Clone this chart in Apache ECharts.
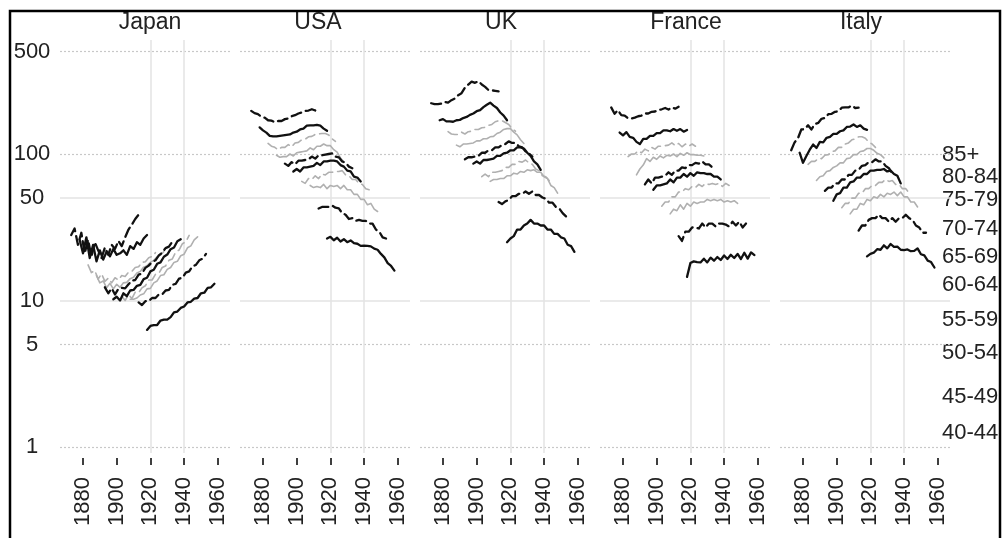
<!DOCTYPE html>
<html>
<head>
<meta charset="utf-8">
<script src="https://cdn.jsdelivr.net/npm/echarts@6/dist/echarts.min.js"></script>
<style>
  html, body { margin: 0; padding: 0; background: #fff; }
  #chart { width: 1008px; height: 538px; }
</style>
</head>
<body>
<div id="chart"></div>
<script>
// Panels, age groups and axis ticks
const countries = ['Japan', 'USA', 'UK', 'France', 'Italy'];
const ageGroups = ['85+', '80-84', '75-79', '70-74', '65-69', '60-64', '55-59', '50-54', '45-49', '40-44'];
const tickYears = [1880, 1900, 1920, 1940, 1960];
const yTickValues = [1, 5, 10, 50, 100, 500];

// Each age group's series starts 5 cohort years after the previous one; values every 2 years
const firstCohort = 1873;
const cohortShift = 5;
const yearStep = 2;

// Rates by birth cohort, one row per age group (85+ first, 40-44 last)
const japanRates = [
  [28, 31, 24, 29, 21, 26, 20, 25, 22, 19.5, 23, 20.5, 24, 22.5, 25.5, 23.5, 27, 30.5, 33, 36, 38.5],
  [26, 21, 27, 19.5, 24, 18.5, 22, 19, 21.5, 20, 22.5, 20.5, 21, 22, 20.5, 23.5, 22.5, 25, 24, 26.5, 28],
  [17.5, 15.5, 16, 14, 15.2, 13.5, 14.2, 13.2, 14.3, 13.8, 14.8, 14.6, 15.6, 15.8, 16.8, 17, 18.2, 18.4, 19.6, 20, 21.2],
  [14.8, 13.2, 13.6, 12.2, 13.1, 12, 12.9, 12.3, 13.2, 13.3, 14.1, 14.4, 15.4, 15.8, 16.9, 17.3, 18.2, 18.8, 19.9, 20.4, 21.6],
  [12.3, 11.2, 12.1, 11, 12, 12.2, 12.1, 12.9, 13.7, 13.8, 15, 15.3, 16.7, 17.3, 18.3, 18.8, 20.3, 21.2, 22.8, 23.3, 25.2],
  [10.2, 10.6, 10, 11.2, 10.7, 11.7, 11.8, 12.6, 12.8, 14, 14.3, 15.8, 16.2, 17.8, 18.2, 19.9, 20.6, 22.4, 23, 25.4, 26.2],
  [10.7, 10, 11, 10.3, 11.4, 11.3, 12.2, 12.6, 13.8, 13.8, 15.1, 15.3, 16.8, 17.2, 18.8, 19.2, 21.4, 22.1, 24.4, 25.1, 27.8],
  [10.2, 10.2, 10.4, 10.9, 11.1, 12, 12.1, 13.2, 13.6, 14.8, 15, 16.3, 16.8, 18.2, 18.5, 20.2, 20.7, 22.9, 23.6, 25.9, 27.2],
  [9.7, 9.3, 9.9, 9.9, 10.4, 10.4, 11, 11, 11.7, 11.8, 12.8, 13, 14.1, 14.3, 15.5, 15.8, 17.1, 17.5, 18.8, 19.3, 20.8],
  [6.3, 6.7, 6.8, 6.8, 7.3, 7.4, 7.4, 7.7, 8.3, 8.4, 8.9, 9.1, 9.7, 9.8, 10.3, 10.4, 11.2, 11.3, 12.2, 12.3, 13]
];
const usaRates = [
  [197, 190, 187, 180, 177, 170, 169, 165, 168, 168, 173, 175, 181, 184, 189, 192, 197, 198, 202, 198, 206],
  [152, 145, 140, 133, 132, 132, 133, 134, 135, 136, 140, 142, 147, 149, 156, 157, 157, 158, 156, 149, 144],
  [118, 113, 111, 107, 111, 111, 116, 112, 119, 120, 125, 126, 131, 132, 136, 137, 138, 138, 135, 127, 122],
  [98, 95, 96, 96, 100, 97, 102, 103, 104, 105, 110, 107, 113, 113, 117, 114, 114, 107, 103, 94, 88],
  [86, 83, 88, 85, 90, 90, 91, 92, 96, 93, 98, 98, 99, 100, 101, 96, 95, 89, 87, 82, 80],
  [76, 79, 76, 81, 81, 82, 83, 87, 84, 89, 89, 90, 90, 89, 84, 82, 77, 76, 70, 69, 65],
  [65, 63, 68, 67, 71, 68, 73, 72, 75, 75, 76, 76, 77, 72, 71, 67, 67, 63, 62, 58, 57],
  [61, 59, 60, 59, 62, 58, 61, 60, 61, 58, 61, 57, 57, 53, 53, 49, 49, 45, 46, 42, 40.5],
  [42.5, 43.5, 43.5, 43.5, 44.5, 43, 42.5, 39.5, 38.5, 36, 36.5, 35, 35.5, 35, 35, 33.5, 33.5, 30.5, 29.5, 27, 26.5],
  [26.5, 27.2, 25.8, 26.8, 25.3, 26.2, 25, 25.7, 24.6, 24.4, 23.6, 23.7, 23.6, 23.4, 22.6, 22.2, 20.8, 19.7, 18, 17.2, 16]
];
const ukRates = [
  [222, 219, 219, 221, 227, 224, 233, 239, 252, 260, 283, 298, 312, 306, 314, 298, 287, 273, 272, 270, 268],
  [170, 173, 167, 167, 166, 170, 171, 176, 179, 185, 189, 196, 199, 209, 217, 224, 214, 206, 192, 183, 170],
  [142, 137, 136, 136, 141, 137, 142, 143, 147, 147, 151, 152, 157, 159, 166, 169, 169, 164, 159, 149, 143],
  [115, 112, 117, 117, 118, 119, 123, 123, 127, 127, 131, 132, 138, 141, 147, 149, 149, 141, 135, 125, 118],
  [92, 95, 95, 96, 97, 102, 102, 106, 106, 111, 111, 115, 117, 122, 119, 119, 113, 111, 104, 101, 96],
  [86, 89, 86, 91, 91, 92, 93, 97, 97, 101, 102, 106, 106, 111, 111, 109, 102, 97, 89, 85, 78],
  [70, 73, 70, 75, 75, 76, 77, 81, 81, 85, 85, 89, 88, 91, 87, 85, 79, 77, 71, 70, 66],
  [65, 67, 67, 68, 68, 71, 71, 74, 73, 76, 75, 78, 77, 78, 75, 75, 70, 68, 61, 59, 54],
  [47, 45.5, 47.5, 48.5, 51.5, 51.5, 53.5, 53.5, 55.5, 53.5, 55.5, 52.5, 52.5, 50.5, 49.5, 46.5, 46.5, 43.5, 42.5, 39.5, 37.5],
  [25, 26.5, 27.5, 30.5, 30.5, 32.5, 33.5, 35.5, 33.5, 33.5, 32.5, 32.5, 30.5, 30.5, 28.5, 28.5, 27, 26.5, 24, 23.5, 21.5]
];
const franceRates = [
  [208, 188, 199, 184, 183, 175, 175, 177, 181, 183, 189, 189, 194, 195, 200, 202, 206, 201, 208, 204, 210],
  [140, 134, 141, 131, 129, 121, 117, 127, 127, 133, 133, 139, 139, 145, 145, 143, 148, 144, 148, 142, 146],
  [96, 100, 100, 105, 102, 108, 105, 111, 108, 113, 113, 114, 115, 119, 114, 118, 112, 117, 113, 117, 113],
  [72, 79, 84, 93, 89, 95, 92, 97, 94, 98, 97, 100, 96, 101, 98, 102, 99, 99, 98, 98, 97],
  [62, 67, 63, 69, 69, 70, 71, 75, 72, 77, 77, 81, 80, 84, 84, 87, 86, 89, 85, 85, 81],
  [57, 61, 61, 62, 63, 67, 64, 69, 69, 73, 70, 74, 71, 75, 74, 74, 73, 73, 70, 70, 67],
  [44, 47, 47, 51, 51, 55, 55, 58, 57, 60, 59, 62, 60, 63, 62, 63, 62, 63, 60, 63, 61],
  [39, 42, 41, 45, 42, 46, 44, 47, 46, 47, 47, 49, 48, 49, 48, 49, 47, 48, 47, 48, 46],
  [27.5, 25.5, 29.5, 29.5, 31.5, 31.5, 31, 33.5, 31.5, 33.5, 33.5, 32, 33.5, 33.5, 33, 32, 34.5, 32.5, 34.5, 31.5, 33.5],
  [14.5, 18, 18.5, 18.3, 18.2, 19.3, 18.2, 19.6, 18.7, 19.8, 18.9, 20.3, 19.2, 20.5, 19.5, 20.8, 19.2, 21.2, 19.3, 21.3, 20.4]
];
const italyRates = [
  [106, 120, 128, 147, 148, 157, 147, 160, 163, 174, 176, 187, 188, 194, 196, 207, 208, 208, 214, 206, 207],
  [102, 87, 97, 107, 116, 110, 121, 120, 129, 131, 137, 137, 143, 145, 153, 154, 159, 153, 157, 149, 146],
  [85, 89, 89, 93, 93, 98, 99, 104, 105, 111, 111, 117, 119, 125, 127, 131, 131, 128, 121, 117, 111],
  [66, 70, 71, 76, 77, 81, 83, 87, 87, 93, 94, 99, 99, 104, 105, 109, 109, 106, 101, 99, 94],
  [56, 59, 59, 63, 63, 67, 67, 72, 72, 77, 78, 83, 84, 88, 88, 92, 89, 89, 83, 80, 73],
  [48, 53, 54, 59, 59, 64, 65, 69, 69, 73, 73, 77, 77, 78, 78, 79, 76, 77, 73, 71, 63],
  [43, 46, 46, 50, 50, 54, 54, 58, 58, 61, 61, 64, 64, 67, 65, 66, 62, 62, 58, 58, 54],
  [39, 42, 42, 46, 45, 49, 48, 51, 50, 53, 51, 54, 53, 55, 52, 55, 51, 51, 47, 47, 43.5],
  [30, 32.5, 32.5, 35.5, 36.5, 36.5, 38.5, 36.5, 36.5, 34.5, 36.5, 34.5, 36.5, 36.5, 38.5, 36.5, 35.5, 32.5, 31.5, 29, 29],
  [20, 20.8, 21.2, 22.4, 22.2, 23.8, 22.7, 24.3, 23.2, 23.3, 22.2, 22.1, 22.3, 21.7, 21.8, 22.7, 20.7, 20.3, 18.7, 18.3, 16.8]
];
const countryRates = [japanRates, usaRates, ukRates, franceRates, italyRates];

// ---- layout & styling ----
const FONT = '"Liberation Sans", Arial, Helvetica, sans-serif';
const TEXT = '#222';
const panelLeft = 60, panelWidth = 170, panelGap = 10, panelTop = 40, panelHeight = 413;
const xRange = [1866.35, 1967.24];
const yRange = [0.91, 600];
const BLACK = '#111', GREY = '#b0b0b0';
const DASH = [10, 5];
const titleCenters = [150, 318, 501, 686, 861];
const ageLabelX = 942;
const ageLabelY = [155, 177, 200, 229, 257, 285, 320, 353, 397, 433];

// alternating pattern: black dashed, black solid, grey dashed, grey solid, ...
function seriesStyle(i) {
  const grey = Math.floor(i / 2) % 2 === 1;
  const dashed = i % 2 === 0;
  return {
    color: grey ? GREY : BLACK,
    width: grey ? 1.6 : 2.3,
    type: dashed ? DASH : 'solid',
    z: grey ? 3 : 4
  };
}

const dotted = { color: '#c8c8c8', width: 1.2, type: [2, 2] };
const solidGrid = { color: '#e3e3e3', width: 1.5, type: 'solid' };
const gridLines = [
  { yAxis: 500, lineStyle: dotted },
  { yAxis: 100, lineStyle: dotted },
  { yAxis: 50, lineStyle: solidGrid },
  { yAxis: 10, lineStyle: solidGrid },
  { yAxis: 5, lineStyle: dotted },
  { yAxis: 1, lineStyle: dotted },
  { xAxis: 1920, lineStyle: solidGrid },
  { xAxis: 1940, lineStyle: solidGrid }
];

const grids = [], xAxes = [], yAxes = [], series = [];
countries.forEach((name, p) => {
  grids.push({
    left: panelLeft + p * (panelWidth + panelGap),
    top: panelTop,
    width: panelWidth,
    height: panelHeight
  });
  xAxes.push({
    type: 'value', gridIndex: p, min: xRange[0], max: xRange[1], offset: 5,
    axisLine: { show: false },
    splitLine: { show: false },
    axisTick: { show: true, customValues: tickYears, length: 7, lineStyle: { color: '#000', width: 1.5 } },
    axisLabel: {
      customValues: tickYears, rotate: 90, margin: 19,
      fontSize: 22, fontFamily: FONT, color: TEXT,
      formatter: v => String(v)
    }
  });
  yAxes.push({
    type: 'log', logBase: 10, gridIndex: p, min: yRange[0], max: yRange[1],
    axisLine: { show: false },
    axisTick: { show: false },
    splitLine: { show: false },
    axisLabel: p === 0 ? {
      show: true, customValues: yTickValues, align: 'center', margin: 28,
      fontSize: 22, fontFamily: FONT, color: TEXT,
      formatter: v => String(v)
    } : { show: false }
  });
  countryRates[p].forEach((rates, i) => {
    const start = firstCohort + i * cohortShift;
    const st = seriesStyle(i);
    const s = {
      type: 'line', name: name + ' ' + ageGroups[i],
      xAxisIndex: p, yAxisIndex: p,
      data: rates.map((v, t) => [start + t * yearStep, v]),
      showSymbol: false, symbol: 'none', silent: true, animation: false,
      z: st.z,
      lineStyle: { color: st.color, width: st.width, type: st.type, cap: 'round', join: 'round' }
    };
    if (i === 0) {
      s.markLine = {
        z: 1, silent: true, animation: false, symbol: ['none', 'none'],
        label: { show: false },
        data: gridLines
      };
    }
    series.push(s);
  });
});

const graphics = [
  // frame
  { type: 'rect', shape: { x: 10, y: 11, width: 990, height: 560 },
    style: { fill: 'none', stroke: '#000', lineWidth: 2.5 }, silent: true, z: 100 }
];
countries.forEach((name, p) => {
  graphics.push({
    type: 'text', x: titleCenters[p], y: 23, silent: true,
    style: { text: name, fill: TEXT, font: '23px ' + FONT, align: 'center', verticalAlign: 'middle' }
  });
});
ageGroups.forEach((label, i) => {
  graphics.push({
    type: 'text', x: ageLabelX, y: ageLabelY[i], silent: true,
    style: { text: label, fill: TEXT, font: '22px ' + FONT, align: 'left', verticalAlign: 'middle' }
  });
});

const chart = echarts.init(document.getElementById('chart'), null, { renderer: 'canvas' });
chart.setOption({
  backgroundColor: '#fff',
  animation: false,
  grid: grids,
  xAxis: xAxes,
  yAxis: yAxes,
  series: series,
  graphic: graphics
});
</script>
</body>
</html>
